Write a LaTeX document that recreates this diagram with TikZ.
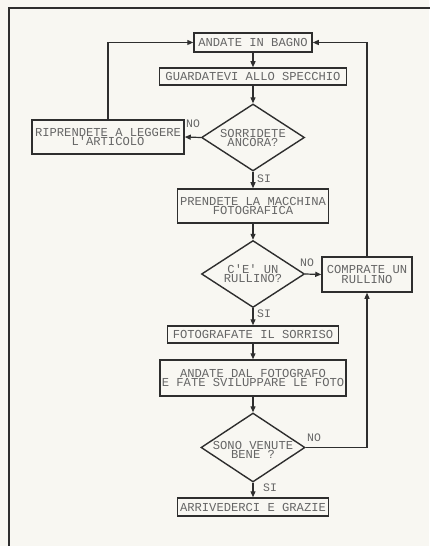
\documentclass[tikz,border=0pt]{standalone}
\usepackage{fontspec}
\newfontfamily\flowmono{Liberation Mono}
\usetikzlibrary{arrows.meta,shapes.geometric}
\definecolor{paper}{HTML}{F8F7F2}
\definecolor{ink}{HTML}{2E2E2E}
\definecolor{txtgray}{HTML}{666666}
\tikzset{
  boxnode/.style={draw=ink, line width=1.5bp, rectangle, inner sep=0pt, fill=paper,
    text=txtgray, font=\flowmono\fontsize{12.2}{9.5}\selectfont, align=center},
  dianode/.style={draw=ink, line width=1.4bp, diamond, inner sep=0pt, fill=paper},
  diatext/.style={text=txtgray, font=\flowmono\fontsize{12.2}{9.5}\selectfont, align=center, inner sep=0pt},
  lbl/.style={text=txtgray, font=\flowmono\fontsize{11.5}{11.5}\selectfont, inner sep=0pt},
  conn/.style={draw=ink, line width=1.2bp, -{Triangle[length=6bp,width=5bp]}},
}
\begin{document}
\begin{tikzpicture}[x=1bp,y=-1bp]
\useasboundingbox (0,0) rectangle (429,546);
\fill[paper] (0,0) rectangle (429,546);
\draw[ink, line width=1.6bp] (9,560) -- (9,8) -- (440,8);

\node[boxnode, minimum width=118bp, minimum height=19bp] (a1) at (253,42.5) {ANDATE IN BAGNO};
\node[boxnode, minimum width=187bp, minimum height=17bp] (a2) at (253,76.5) {GUARDATEVI ALLO SPECCHIO};
\node[dianode, minimum width=103bp, minimum height=67bp] (d1) at (253,137.5) {};
\node[diatext] (d1t) at (253,138) {SORRIDETE\\ANCORA?};
\node[boxnode, minimum width=152bp, minimum height=34bp] (r) at (108,137) {RIPRENDETE A LEGGERE\\L'ARTICOLO};
\node[boxnode, minimum width=151bp, minimum height=34bp] (p) at (253,206) {PRENDETE LA MACCHINA\\FOTOGRAFICA};
\node[dianode, minimum width=103bp, minimum height=67bp] (d2) at (253,274) {};
\node[diatext] (d2t) at (253,273.5) {C'E' UN\\RULLINO?};
\node[boxnode, minimum width=90bp, minimum height=35bp] (c) at (367,274.5) {COMPRATE UN\\RULLINO};
\node[boxnode, minimum width=171bp, minimum height=17bp] (f) at (253,334.5) {FOTOGRAFATE IL SORRISO};
\node[boxnode, minimum width=186bp, minimum height=36bp] (g) at (253,378) {ANDATE DAL FOTOGRAFO\\E FATE SVILUPPARE LE FOTO};
\node[dianode, minimum width=104bp, minimum height=69bp] (d3) at (253,447.5) {};
\node[diatext] (d3t) at (253,450) {SONO VENUTE\\BENE ?};
\node[boxnode, minimum width=151bp, minimum height=18bp] (z) at (253,507) {ARRIVEDERCI E GRAZIE};

\draw[conn] (a1) -- (a2);
\draw[conn] (a2) -- (d1.north);
\draw[conn] (d1.west) -- (r.east);
\draw[conn] (r.north) |- (a1.west);
\draw[conn] (d1.south) -- (p.north);
\draw[conn] (p.south) -- (d2.north);
\draw[conn] (d2.east) -- (c.west);
\draw[conn] (c.north) |- (a1.east);
\draw[conn] (d2.south) -- (f.north);
\draw[conn] (f) -- (g);
\draw[conn] (g.south) -- (d3.north);
\coordinate (k) at (367,447.5);
\draw[conn] (d3.east) -- (k) -- (c.south);
\draw[conn] (d3.south) -- (z.north);

\node[lbl] (n1) at (193,124) {NO};
\node[lbl] (s1) at (264,178.5) {SI};
\node[lbl] (n2) at (307,263) {NO};
\node[lbl] (s2) at (264,314) {SI};
\node[lbl] (n3) at (314,438) {NO};
\node[lbl] (s3) at (270,488) {SI};
\end{tikzpicture}
\end{document}
